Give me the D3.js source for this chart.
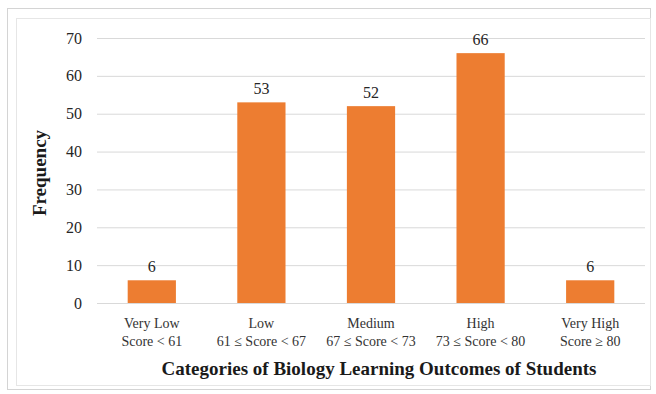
<!DOCTYPE html>
<html>
<head>
<meta charset="utf-8">
<script src="https://cdn.jsdelivr.net/npm/d3@7"></script>
<style>
  html, body { margin: 0; padding: 0; background: #fff; }
  svg { display: block; }
  text { font-family: "Liberation Serif", "Times New Roman", serif; }
</style>
</head>
<body>
<svg id="chart" width="656" height="394"></svg>
<script>
// Frequency of students per learning-outcome category
const categories = ["Very Low", "Low", "Medium", "High", "Very High"];
const ranges = ["Score < 61", "61 ≤ Score < 67", "67 ≤ Score < 73", "73 ≤ Score < 80", "Score ≥ 80"];
const frequencies = [6, 53, 52, 66, 6];
const yTicks = [0, 10, 20, 30, 40, 50, 60, 70];

const svg = d3.select("#chart");

// frame around the figure
svg.append("rect")
  .attr("x", 7.5).attr("y", 8.5).attr("width", 643).attr("height", 381)
  .attr("fill", "#fff").attr("stroke", "#d4d4d4").attr("stroke-width", 1);
svg.append("rect")
  .attr("x", 16.5).attr("y", 18.5).attr("width", 634).attr("height", 367)
  .attr("fill", "none").attr("stroke", "#e6e6e6").attr("stroke-width", 1);

const plot = { left: 97, right: 645, top: 38, bottom: 303 };

const x = d3.scaleBand()
  .domain(categories)
  .range([plot.left, plot.right])
  .paddingInner(0.56)
  .paddingOuter(0.28);

const y = d3.scaleLinear()
  .domain([0, 70])
  .range([plot.bottom, plot.top]);

// horizontal gridlines
svg.append("g")
  .selectAll("line")
  .data(yTicks)
  .join("line")
  .attr("x1", plot.left).attr("x2", plot.right)
  .attr("y1", d => y(d) + 0.5).attr("y2", d => y(d) + 0.5)
  .attr("stroke", "#d9d9d9").attr("stroke-width", 1);

// y axis labels
const yAxis = d3.axisLeft(y).tickValues(yTicks).tickSize(0).tickPadding(0);
const gy = svg.append("g")
  .attr("transform", `translate(${plot.left - 15},0)`)
  .call(yAxis);
gy.select(".domain").remove();
gy.selectAll("text")
  .attr("font-family", "Liberation Serif, serif")
  .attr("font-size", 16)
  .attr("fill", "#262626");

// bars
svg.append("g")
  .selectAll("rect")
  .data(frequencies)
  .join("rect")
  .attr("x", (d, i) => x(categories[i]))
  .attr("y", d => y(d))
  .attr("width", x.bandwidth())
  .attr("height", d => y(0) - y(d))
  .attr("fill", "#ED7D31");

// value labels
svg.append("g")
  .selectAll("text")
  .data(frequencies)
  .join("text")
  .attr("x", (d, i) => x(categories[i]) + x.bandwidth() / 2)
  .attr("y", d => y(d) - 8)
  .attr("text-anchor", "middle")
  .attr("font-size", 16)
  .attr("fill", "#262626")
  .text(d => d);

// category labels (two lines)
const xAxis = d3.axisBottom(x).tickSize(0).tickPadding(0);
const gx = svg.append("g")
  .attr("transform", `translate(0,${plot.bottom})`)
  .call(xAxis);
gx.select(".domain").remove();
gx.selectAll(".tick text").remove();
gx.selectAll(".tick").each(function(d, i) {
  const t = d3.select(this).append("text")
    .attr("text-anchor", "middle")
    .attr("font-size", 14)
    .attr("fill", "#333");
  t.append("tspan").attr("x", 0).attr("y", 25).text(categories[i]);
  t.append("tspan").attr("x", 0).attr("y", 43).text(ranges[i]);
});

// axis titles
svg.append("text")
  .attr("x", 379).attr("y", 375)
  .attr("text-anchor", "middle")
  .attr("font-size", 19)
  .attr("font-weight", "bold")
  .attr("fill", "#1a1a1a")
  .text("Categories of Biology Learning Outcomes of Students");

svg.append("text")
  .attr("transform", "translate(46,173) rotate(-90)")
  .attr("text-anchor", "middle")
  .attr("font-size", 19)
  .attr("font-weight", "bold")
  .attr("fill", "#1a1a1a")
  .text("Frequency");
</script>
</body>
</html>
